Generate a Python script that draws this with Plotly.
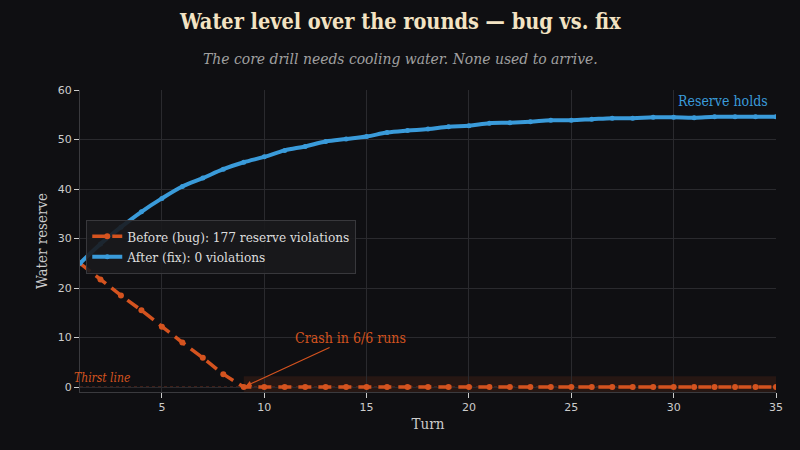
import plotly.graph_objects as go

# turns 1..35
turns = list(range(1, 36))

# water reserve, before the fix (crashes at turn 9)
before = [25.0, 21.7, 18.5, 15.5, 12.2, 9.0, 5.9, 2.6, 0.0] + [0.0] * 26

# water reserve, after the fix
after = [25.0, 28.9, 32.3, 35.4, 38.1, 40.5, 42.2, 44.0, 45.4, 46.5,
         47.8, 48.6, 49.6, 50.1, 50.6, 51.4, 51.8, 52.1, 52.6, 52.8,
         53.3, 53.4, 53.6, 53.9, 53.9, 54.1, 54.3, 54.3, 54.5, 54.5,
         54.4, 54.6, 54.6, 54.6, 54.6]

ORANGE = '#D4531F'
BLUE = '#3A9BDA'
BG = '#0f0f12'
GRID = '#2a2a2e'
SERIF = 'DejaVu Serif Condensed, DejaVu Serif, serif'
SANS = 'DejaVu Sans, sans-serif'

fig = go.Figure()

fig.add_trace(go.Scatter(
    x=turns, y=before, mode='lines+markers',
    name='Before (bug): 177 reserve violations',
    line=dict(color=ORANGE, width=3.5, dash='13px,7px'),
    marker=dict(color=ORANGE, size=6)
))

fig.add_trace(go.Scatter(
    x=turns, y=after, mode='lines+markers',
    name='After (fix): 0 violations',
    line=dict(color=BLUE, width=4, shape='spline'),
    marker=dict(color=BLUE, size=5)
))

# crash zone and thirst line
fig.add_shape(type='rect', x0=9, x1=35, y0=-1, y1=2.2, layer='below',
              fillcolor='rgba(212,83,31,0.12)', line=dict(width=0))
fig.add_shape(type='line', x0=1, x1=35, y0=0, y1=0, layer='below',
              line=dict(color='#7a3322', width=1, dash='dot'))

fig.add_annotation(x=-0.012, xref='paper', y=0, yref='y', text='<i>Thirst line</i>',
                   showarrow=False, xanchor='left', yanchor='bottom', yshift=0,
                   font=dict(family=SERIF, size=12, color=ORANGE))
fig.add_annotation(x=9, y=0, ax=14.2, ay=9.9, axref='x', ayref='y',
                   text='Crash in 6/6 runs', showarrow=True, arrowhead=2,
                   arrowsize=1, arrowwidth=1.2, arrowcolor=ORANGE, standoff=2,
                   font=dict(family=SERIF, size=14, color=ORANGE))
fig.add_annotation(x=35, y=57.8, text='Reserve holds', showarrow=False,
                   xanchor='right', xshift=-6,
                   font=dict(family=SERIF, size=14, color=BLUE))

# title and subtitle, placed in pixels (plot area 80..776 x 90..392)
def px_x(px):
    return (px - 80) / 696

def px_y(py):
    return (392 - py) / 302

fig.add_annotation(x=px_x(400), xref='paper', y=px_y(22), yref='paper', yanchor='middle',
                   text='<b>Water level over the rounds — bug vs. fix</b>',
                   showarrow=False, font=dict(family=SERIF, size=21.5, color='#f3e3c3'))
fig.add_annotation(x=px_x(400), xref='paper', y=px_y(59), yref='paper', yanchor='middle',
                   text='<i>The core drill needs cooling water. None used to arrive.</i>',
                   showarrow=False, font=dict(family=SERIF, size=15.5, color='#a0a0a0'))

fig.update_layout(
    width=800, height=450,
    paper_bgcolor=BG, plot_bgcolor=BG,
    margin=dict(l=80, r=24, t=90, b=58),
    legend=dict(x=0.009, y=px_y(220), xanchor='left', yanchor='top',
                bgcolor='rgba(26,26,29,0.9)', bordercolor='#38383c', borderwidth=1,
                font=dict(family=SERIF, size=13.5, color='#dddddd')),
    showlegend=True
)

fig.update_xaxes(range=[1, 35], tick0=5, dtick=5, showgrid=True, gridcolor=GRID,
                 zeroline=False, showline=True, linecolor='#3a3a3e',
                 ticks='outside', ticklen=5, tickcolor='#cccccc',
                 tickfont=dict(family=SANS, size=11, color='#cccccc'),
                 title=dict(text='Turn', standoff=5,
                            font=dict(family=SERIF, size=15, color='#cccccc')))
fig.update_yaxes(range=[-1, 60], dtick=10, showgrid=True, gridcolor=GRID,
                 zeroline=False, showline=True, linecolor='#3a3a3e',
                 ticks='outside', ticklen=5, tickcolor='#cccccc',
                 tickfont=dict(family=SANS, size=11, color='#cccccc'),
                 title=dict(text='Water reserve', standoff=6,
                            font=dict(family=SERIF, size=15, color='#cccccc')))

fig.write_html("out.html", config={'displayModeBar': False},
               post_script="document.body.style.margin='0';document.body.style.overflow='hidden';")
